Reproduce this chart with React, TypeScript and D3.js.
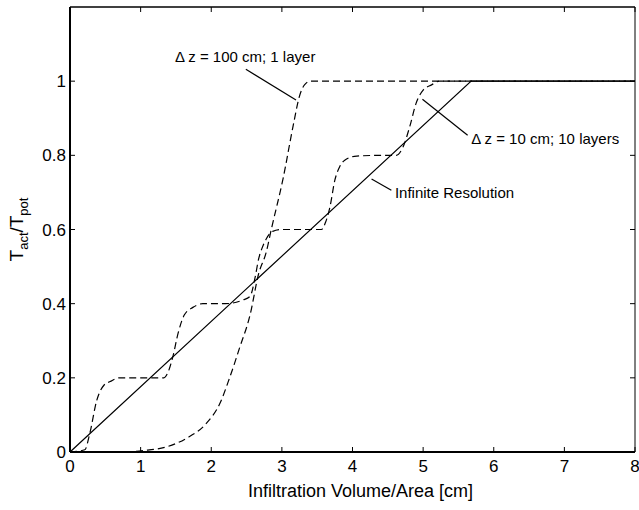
import React from 'react';
import * as d3 from 'd3';

const WIDTH = 639;
const HEIGHT = 510;
const MARGIN = { top: 7, right: 4, bottom: 58, left: 70 };

// infinite resolution (solid)
const infX = [0, 5.68, 8];
const infY = [0, 1, 1];

// dz = 100 cm, 1 layer (dashed)
const oneX = [0, 0.75, 1.04, 1.37, 1.65, 1.93, 2.12, 2.26, 2.4, 2.55, 2.67, 2.78, 2.85, 3.02, 3.16, 3.25, 3.32, 3.41, 8];
const oneY = [0, 0, 0.004, 0.014, 0.037, 0.077, 0.13, 0.2, 0.28, 0.37, 0.48, 0.54, 0.6, 0.74, 0.88, 0.96, 0.99, 1, 1];

// dz = 10 cm, 10 layers (dashed)
const tenX = [0, 0.21, 0.28, 0.38, 0.48, 0.57, 0.7, 1.0, 1.33, 1.39, 1.46, 1.53, 1.62, 1.74, 1.88, 2.2, 2.45, 2.55, 2.62, 2.67, 2.73, 2.78, 2.87, 3.0, 3.3, 3.56, 3.62, 3.68, 3.75, 3.82, 3.89, 4.06, 4.4, 4.62, 4.71, 4.81, 4.9, 5.0, 5.12, 5.23, 5.4, 8];
const tenY = [0, 0.006, 0.05, 0.14, 0.18, 0.19, 0.2, 0.2, 0.2, 0.216, 0.26, 0.32, 0.37, 0.39, 0.4, 0.4, 0.41, 0.42, 0.47, 0.52, 0.555, 0.575, 0.595, 0.6, 0.6, 0.6, 0.62, 0.66, 0.733, 0.77, 0.787, 0.798, 0.8, 0.8, 0.82, 0.877, 0.94, 0.976, 0.99, 1, 1, 1];

const xTicks = [0, 1, 2, 3, 4, 5, 6, 7, 8];
const yTicks = [0, 0.2, 0.4, 0.6, 0.8, 1];
const yTickLabels = ['0', '0.2', '0.4', '0.6', '0.8', '1'];

// annotations in data units: text anchor, leader line start/end
const noteText = ['\u0394 z = 100 cm; 1 layer', '\u0394 z = 10 cm; 10 layers', 'Infinite Resolution'];
const noteTextX = [1.485, 5.68, 4.6];
const noteTextY = [1.053, 0.83, 0.685];
const noteLine = [
  [2.49, 1.032, 3.2, 0.949],
  [4.99, 0.951, 5.63, 0.854],
  [4.27, 0.736, 4.55, 0.706],
];

const FONT = 'Liberation Sans, Arial, Helvetica, sans-serif';

const App = () => {
  const left = MARGIN.left;
  const right = WIDTH - MARGIN.right;
  const top = MARGIN.top;
  const bottom = HEIGHT - MARGIN.bottom;

  const x = d3.scaleLinear().domain([0, 8]).range([left, right]);
  const y = d3.scaleLinear().domain([0, 1.2]).range([bottom, top]);

  const smooth = d3.line<[number, number]>()
    .x(d => x(d[0]))
    .y(d => y(d[1]))
    .curve(d3.curveMonotoneX);
  const straight = d3.line<[number, number]>()
    .x(d => x(d[0]))
    .y(d => y(d[1]));

  const pts = (xs: number[], ys: number[]) => xs.map((v, i) => [v, ys[i]] as [number, number]);

  return (
    <svg width={WIDTH} height={HEIGHT} style={{ position: 'absolute', left: 0, top: 0, background: '#fff' }}>
      <rect x={0} y={0} width={WIDTH} height={HEIGHT} fill="#fff" />

      {/* curves */}
      <path d={smooth(pts(oneX, oneY)) || ''} fill="none" stroke="#000" strokeWidth={1.2} strokeDasharray="7,4" />
      <path d={smooth(pts(tenX, tenY)) || ''} fill="none" stroke="#000" strokeWidth={1.2} strokeDasharray="7,4" />
      <path d={straight(pts(infX, infY)) || ''} fill="none" stroke="#000" strokeWidth={1.2} />

      {/* frame */}
      <line x1={left} x2={left} y1={top} y2={bottom} stroke="#000" strokeWidth={2} />
      <line x1={left} x2={right} y1={bottom} y2={bottom} stroke="#000" strokeWidth={2} />
      <line x1={left} x2={right} y1={top} y2={top} stroke="#000" strokeWidth={1.6} />
      <line x1={right} x2={right} y1={top} y2={bottom} stroke="#000" strokeWidth={1} />

      {/* x ticks */}
      {xTicks.map(t => (
        <g key={'x' + t}>
          <line x1={x(t)} x2={x(t)} y1={bottom} y2={bottom - 5} stroke="#000" />
          <line x1={x(t)} x2={x(t)} y1={top} y2={top + 5} stroke="#000" />
          <text x={x(t)} y={bottom + 20} textAnchor="middle" fontFamily={FONT} fontSize={17}>{t}</text>
        </g>
      ))}

      {/* y ticks */}
      {yTicks.map((t, i) => (
        <g key={'y' + t}>
          <line x1={left} x2={left + 5} y1={y(t)} y2={y(t)} stroke="#000" />
          <line x1={right} x2={right - 5} y1={y(t)} y2={y(t)} stroke="#000" />
          <text x={left - 4} y={y(t)} dy="0.36em" textAnchor="end" fontFamily={FONT} fontSize={17}>{yTickLabels[i]}</text>
        </g>
      ))}

      {/* annotations */}
      {noteText.map((s, i) => (
        <g key={'n' + i}>
          <text x={x(noteTextX[i])} y={y(noteTextY[i])} fontFamily={FONT} fontSize={15}>{s}</text>
          <line x1={x(noteLine[i][0])} y1={y(noteLine[i][1])} x2={x(noteLine[i][2])} y2={y(noteLine[i][3])} stroke="#000" strokeWidth={1.2} />
        </g>
      ))}

      {/* axis labels */}
      <text x={(left + right) / 2 + 8} y={497} textAnchor="middle" fontFamily={FONT} fontSize={18}>
        Infiltration Volume/Area [cm]
      </text>
      <text transform={`translate(23, ${(top + bottom) / 2}) rotate(-90)`} textAnchor="middle" fontFamily={FONT} fontSize={19}>
        T<tspan fontSize={13} dy={5}>act</tspan><tspan dy={-5}>/T</tspan><tspan fontSize={13} dy={5}>pot</tspan>
      </text>
    </svg>
  );
};

export default App;
